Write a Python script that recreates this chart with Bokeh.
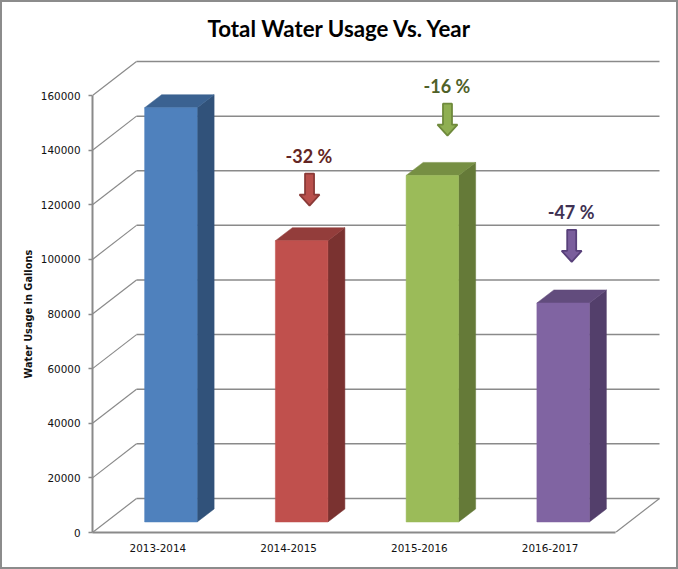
from bokeh.plotting import figure
from bokeh.models import Range1d, FixedTicker, ColumnDataSource, Title
from bokeh.core.properties import value
from bokeh.embed import file_html
from bokeh.resources import INLINE

title_text = "Total Water Usage Vs. Year"
y_label = "Water Usage in Gallons"
categories = ["2013-2014", "2014-2015", "2015-2016", "2016-2017"]
usage = [151700, 103000, 126900, 80200]
y_ticks = [0, 20000, 40000, 60000, 80000, 100000, 120000, 140000, 160000]
front_colors = ["#4F81BD", "#C0504D", "#9BBB59", "#8064A2"]
top_colors = ["#3B6291", "#933D3B", "#768F43", "#624C7D"]
side_colors = ["#31527A", "#7A3230", "#657A38", "#533F6B"]

change_labels = ["-32 %", "-16 %", "-47 %"]
change_x = [1.16, 2.215, 3.165]
change_label_x = [1.155, 2.21, 3.16]
change_text_y = [137960, 163660, 117460]
change_tip_y = [119700, 145300, 99100]
change_fill = ["#B9504C", "#8FAF52", "#7A5E9C"]
change_edge = ["#8A3A37", "#6F8A3C", "#58407A"]
change_text_color = ["#632523", "#4F6128", "#403152"]

W, H = 678, 569
BORDER = 2
LEFT, RIGHT, TOP, BOTTOM = 92, 660, 50, 531.5
X_PX = 130.75          # pixels per category
Y_PX = 436.5 / 160000  # pixels per gallon


def dx(px):
    return px / X_PX


def dy(px):
    return px / Y_PX


p = figure(
    width=W, height=H, output_backend="svg", toolbar_location=None,
    x_range=Range1d(-0.5, -0.5 + dx(RIGHT - LEFT)),
    y_range=Range1d(0, dy(BOTTOM - TOP)),
    min_border_left=LEFT - BORDER, min_border_right=W - RIGHT + BORDER,
    min_border_top=TOP - BORDER, min_border_bottom=int(H - BOTTOM) + BORDER,
    background_fill_color="white", border_fill_color="white",
)
p.styles = {"border": f"{BORDER}px solid #8C8C8C", "box-sizing": "border-box"}
p.outline_line_color = None
p.grid.visible = False

GRID = "#8A8A8A"

# walls and floor
wall_dx, wall_dy = dx(44), dy(34)
x_l = -0.5
x_floor_r = 3.5
x_back_r = x_floor_r + wall_dx
p.multi_line(
    [[x_l + wall_dx, x_back_r] for _ in y_ticks],
    [[t + wall_dy, t + wall_dy] for t in y_ticks],
    line_color=GRID, line_width=1.5,
)
p.multi_line(
    [[x_l, x_l + wall_dx] for _ in y_ticks] + [[x_floor_r, x_back_r]],
    [[t, t + wall_dy] for t in y_ticks] + [[0, wall_dy]],
    line_color=GRID, line_width=1.2,
)

# 3-D bars
bar_off, bar_w = dx(13), dx(52.5)
base = dy(10.5)
depth_x, depth_y = dx(17), dy(13)
lefts = [i + bar_off - bar_w / 2 for i in range(len(categories))]
rights = [l + bar_w for l in lefts]
tops = [base + v for v in usage]

p.patches(
    [[r, r + depth_x, r + depth_x, r] for r in rights],
    [[base, base + depth_y, t + depth_y, t] for t in tops],
    fill_color=side_colors, line_color=side_colors, line_width=0.5,
)
p.patches(
    [[l, l + depth_x, r + depth_x, r] for l, r in zip(lefts, rights)],
    [[t, t + depth_y, t + depth_y, t] for t in tops],
    fill_color=top_colors, line_color=top_colors, line_width=0.5,
)
p.quad(left=lefts, right=rights, bottom=base, top=tops,
       fill_color=front_colors, line_color=front_colors, line_width=0.5)

# change arrows and labels
stem, head, head_h, total_h = dx(4.5), dx(10), dy(11), dy(32)
xs, ys = [], []
for x, tip in zip(change_x, change_tip_y):
    xs.append([x - stem, x + stem, x + stem, x + head, x, x - head, x - stem])
    ys.append([tip + total_h, tip + total_h, tip + head_h, tip + head_h,
               tip, tip + head_h, tip + head_h])
p.patches(xs, ys, fill_color=change_fill, line_color=change_edge, line_width=1.8)
p.text(
    source=ColumnDataSource(dict(x=change_label_x, y=change_text_y, text=change_labels,
                                 color=change_text_color)),
    x="x", y="y", text="text", text_color="color",
    text_font=value("Lato"), text_font_style="bold", text_font_size="18px",
    text_align="center", text_baseline="middle",
)

# axes
ya = p.yaxis[0]
ya.ticker = FixedTicker(ticks=y_ticks)
ya.bounds = (0, 160000)
ya.formatter.use_scientific = False
ya.minor_tick_line_color = None
ya.major_tick_in = 0
ya.major_tick_out = 4
ya.major_tick_line_color = GRID
ya.major_tick_line_width = 1.5
ya.axis_line_color = GRID
ya.axis_line_width = 2
ya.major_label_standoff = 8
ya.major_label_text_font = "DejaVu Sans"
ya.major_label_text_font_size = "10.4px"
ya.major_label_text_color = "#111111"

xa = p.xaxis[0]
xa.ticker = FixedTicker(ticks=list(range(len(categories))))
xa.major_label_overrides = {i: c for i, c in enumerate(categories)}
xa.bounds = (-0.5, 3.5)
xa.minor_tick_line_color = None
xa.major_tick_line_color = None
xa.axis_line_color = GRID
xa.axis_line_width = 2
xa.major_label_standoff = 5
xa.major_label_text_font = "DejaVu Sans"
xa.major_label_text_font_size = "10.4px"
xa.major_label_text_color = "#111111"

# y-axis caption, placed below the frame's centre as in the reference
p.add_layout(Title(text=y_label, align="left", offset=154, standoff=7,
                   text_font="DejaVu Sans", text_font_style="bold",
                   text_font_size="9.8px", text_color="#111111"), "left")

# title
p.title.text = title_text
p.title.text_font = "Lato"
p.title.text_font_style = "bold"
p.title.text_font_size = "22.3px"
p.title.text_color = "#000000"
p.title.align = "left"
p.title.vertical_align = "middle"
p.title.offset = 115
p.title.standoff = 16

open("out.html", "w").write(file_html(p, INLINE))
